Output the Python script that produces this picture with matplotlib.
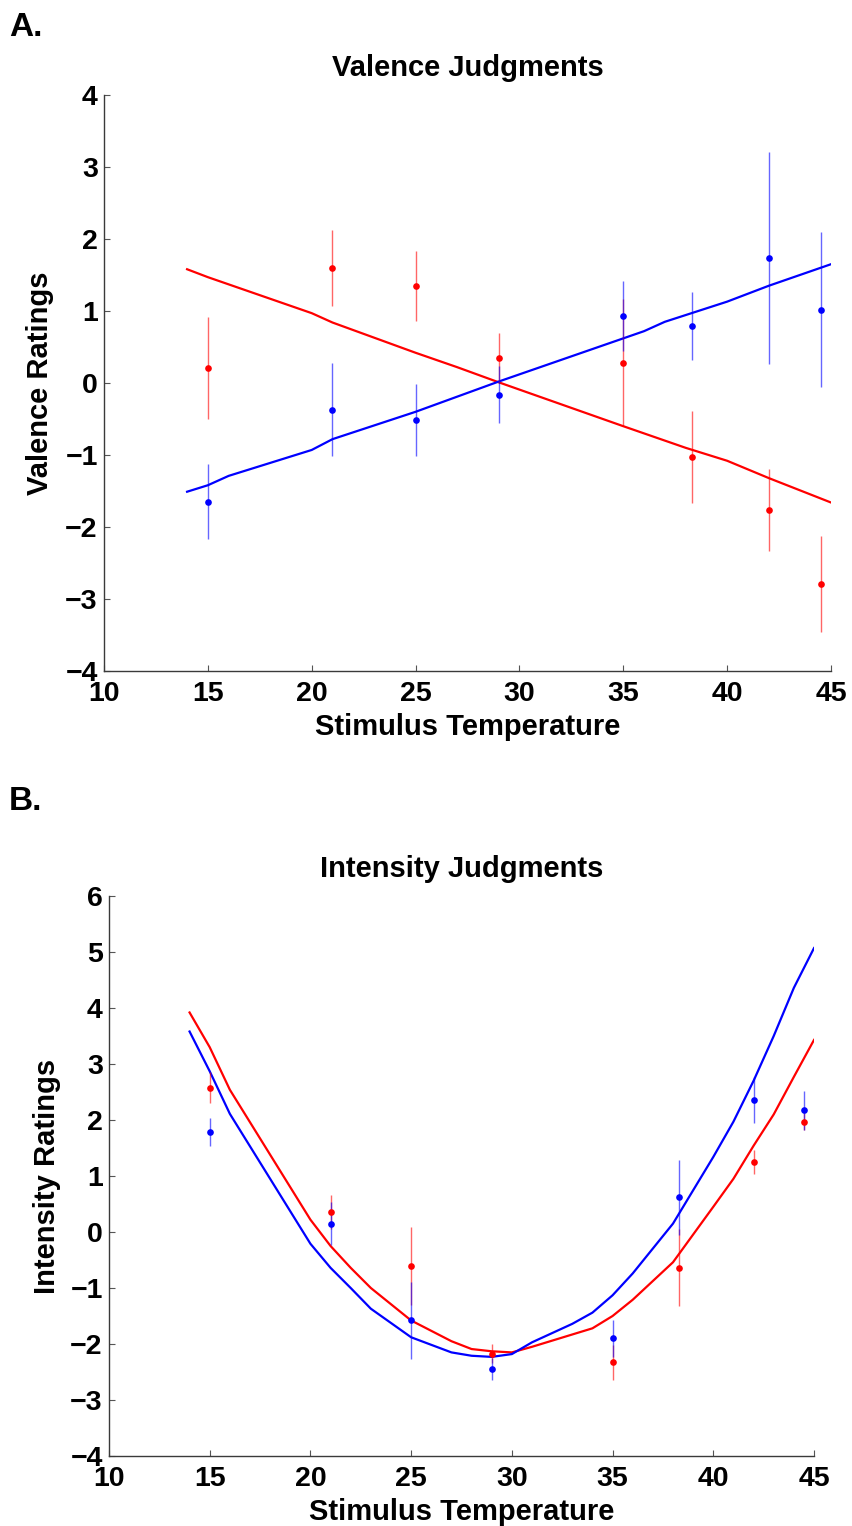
import matplotlib
matplotlib.use("Agg")
import matplotlib.pyplot as plt

plt.rcParams['font.family'] = ['Liberation Sans', 'DejaVu Sans']
plt.rcParams['font.weight'] = 'bold'

# ---------------- Panel A: Valence ----------------
temps_a = [15, 21, 25, 29, 35, 38.3, 42, 44.5]
val_red = [0.21, 1.60, 1.35, 0.35, 0.28, -1.03, -1.77, -2.79]
val_red_err = [0.71, 0.53, 0.49, 0.35, 0.88, 0.64, 0.57, 0.67]
val_blue = [-1.65, -0.37, -0.51, -0.16, 0.93, 0.79, 1.74, 1.02]
val_blue_err = [0.52, 0.65, 0.50, 0.39, 0.49, 0.47, 1.47, 1.08]

fit_a_red_x = [14, 15, 20, 21, 25, 27, 29, 35, 36, 38, 40, 42, 45]
fit_a_red_y = [1.58, 1.47, 0.97, 0.84, 0.42, 0.22, 0.01, -0.60, -0.70, -0.90, -1.08, -1.32, -1.66]
fit_a_blue_x = [14, 15, 16, 20, 21, 25, 27, 29, 35, 36, 37, 40, 42, 45]
fit_a_blue_y = [-1.51, -1.42, -1.29, -0.93, -0.78, -0.40, -0.19, 0.02, 0.62, 0.72, 0.85, 1.13, 1.35, 1.65]

# ---------------- Panel B: Intensity ----------------
temps_b = [15, 21, 25, 29, 35, 38.3, 42, 44.5]
int_red = [2.58, 0.36, -0.61, -2.17, -2.33, -0.64, 1.25, 1.97]
int_red_err = [0.28, 0.30, 0.70, 0.17, 0.31, 0.69, 0.22, 0.15]
int_blue = [1.79, 0.15, -1.58, -2.45, -1.90, 0.62, 2.35, 2.17]
int_blue_err = [0.25, 0.38, 0.68, 0.20, 0.33, 0.67, 0.41, 0.34]

fit_b_x = [14, 15, 16, 20, 21, 22, 23, 25, 27, 28, 29, 30, 31, 33, 34, 35, 36, 38, 40, 41, 42, 43, 44, 45]
fit_b_red = [3.92, 3.30, 2.54, 0.22, -0.25, -0.64, -1.00, -1.58, -1.95, -2.09, -2.13, -2.15, -2.05,
             -1.83, -1.72, -1.50, -1.21, -0.54, 0.45, 0.95, 1.54, 2.10, 2.77, 3.43]
fit_b_blue = [3.58, 2.87, 2.11, -0.21, -0.64, -1.00, -1.37, -1.88, -2.15, -2.21, -2.23, -2.18, -1.97,
              -1.64, -1.44, -1.13, -0.74, 0.15, 1.34, 1.97, 2.70, 3.50, 4.36, 5.07]

x_ticks = [10, 15, 20, 25, 30, 35, 40, 45]

RED = '#ff0000'
BLUE = '#0000ff'

W, H = 853, 1526
fig = plt.figure(figsize=(W / 100, H / 100), dpi=100)


def make_axes(l, r, t, b):
    return fig.add_axes([l / W, 1 - b / H, (r - l) / W, (b - t) / H])


def style(ax, ylim, yticks, title, ylabel, ylab_x):
    ax.set_xlim(10, 45)
    ax.set_ylim(*ylim)
    ax.set_xticks(x_ticks)
    ax.set_yticks(yticks)
    for s in ['top', 'right']:
        ax.spines[s].set_visible(False)
    for s in ['left', 'bottom']:
        ax.spines[s].set_color('#3a3a3a')
        ax.spines[s].set_linewidth(1.0)
    ax.tick_params(direction='in', length=4.5, width=0.8, color='#555555',
                   labelsize=20.5)
    ax.tick_params(axis='x', pad=7.5)
    ax.tick_params(axis='y', pad=4.5)
    for lab in ax.get_xticklabels() + ax.get_yticklabels():
        lab.set_fontweight('bold')
    ax.set_title(title, fontsize=21, fontweight='bold', pad=13.5)
    ax.set_xlabel('Stimulus Temperature', fontsize=21, fontweight='bold', labelpad=4)
    ax.set_ylabel(ylabel, fontsize=21, fontweight='bold')
    ax.yaxis.set_label_coords(ylab_x, 0.5)


def draw(ax, t, red, rerr, blue, berr, fx_r, fy_r, fx_b, fy_b):
    ax.plot(fx_r, fy_r, color=RED, lw=1.6, zorder=2)
    ax.plot(fx_b, fy_b, color=BLUE, lw=1.6, zorder=2)
    ax.errorbar(t, red, yerr=rerr, fmt='none', ecolor=RED, elinewidth=1.0,
                alpha=0.6, capsize=0, zorder=3)
    ax.errorbar(t, blue, yerr=berr, fmt='none', ecolor=BLUE, elinewidth=1.0,
                alpha=0.6, capsize=0, zorder=3)
    ax.plot(t, blue, 'o', color=BLUE, ms=4.8, mec='none', zorder=4)
    ax.plot(t, red, 'o', color=RED, ms=4.8, mec='none', zorder=4)


axA = make_axes(104, 831, 95, 671)
draw(axA, temps_a, val_red, val_red_err, val_blue, val_blue_err,
     fit_a_red_x, fit_a_red_y, fit_a_blue_x, fit_a_blue_y)
style(axA, (-4, 4), [-4, -3, -2, -1, 0, 1, 2, 3, 4], 'Valence Judgments', 'Valence Ratings', -0.0685)

axB = make_axes(109, 814, 896, 1456)
draw(axB, temps_b, int_red, int_red_err, int_blue, int_blue_err,
     fit_b_x, fit_b_red, fit_b_x, fit_b_blue)
style(axB, (-4, 6), [-4, -3, -2, -1, 0, 1, 2, 3, 4, 5, 6], 'Intensity Judgments', 'Intensity Ratings', -0.0675)

fig.text(9 / W, 1 - 27 / H, 'A.', fontsize=24, fontweight='bold', va='center', ha='left')
fig.text(9 / W, 1 - 802 / H, 'B.', fontsize=24, fontweight='bold', va='center', ha='left')

fig.savefig('out.png', dpi=100)
